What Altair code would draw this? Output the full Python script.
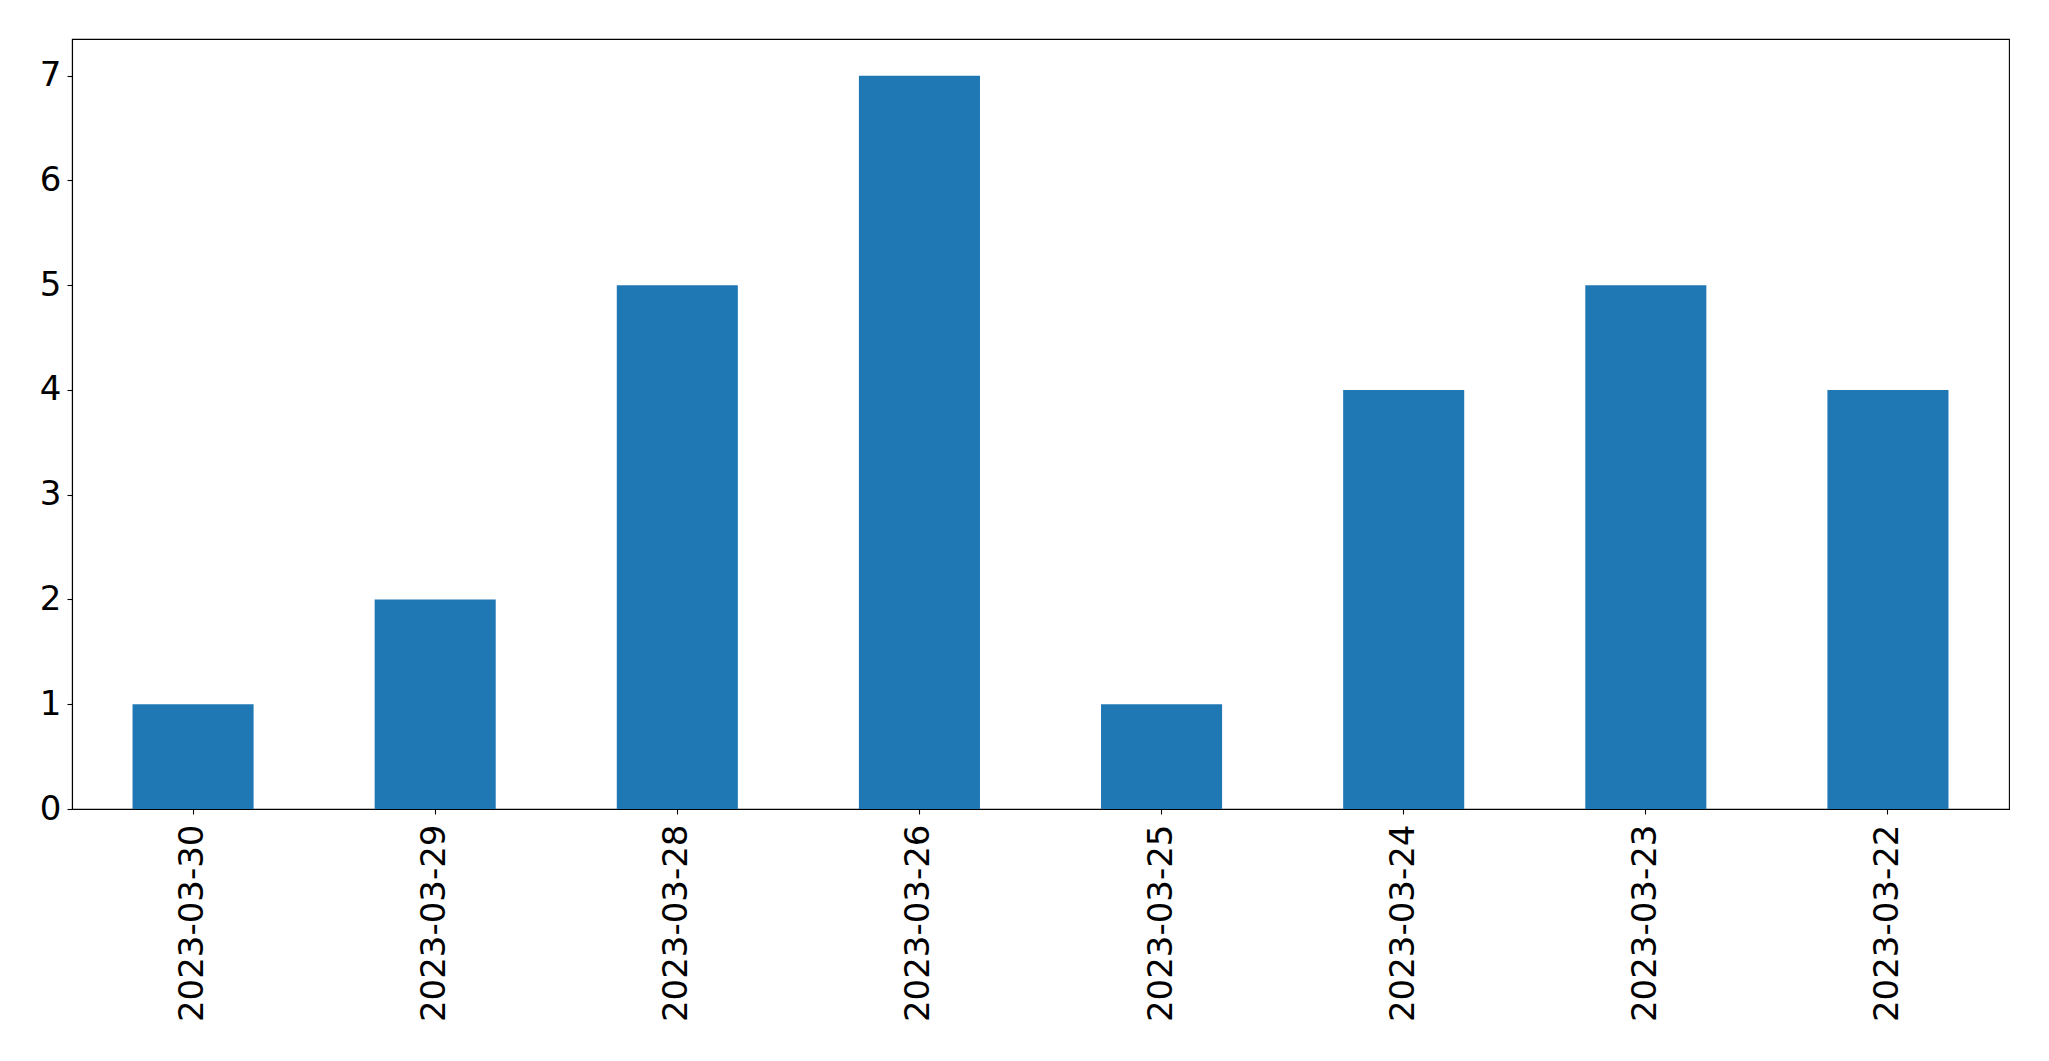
import altair as alt
import pandas as pd

dates = ["2023-03-30", "2023-03-29", "2023-03-28", "2023-03-26",
         "2023-03-25", "2023-03-24", "2023-03-23", "2023-03-22"]
counts = [1, 2, 5, 7, 1, 4, 5, 4]
y_ticks = [0, 1, 2, 3, 4, 5, 6, 7]

df = pd.DataFrame({"date": dates, "count": counts})

FONT = "DejaVu Sans"
FS = 34

chart = alt.Chart(df).mark_bar(color="#1f77b4").encode(
    x=alt.X("date:N", sort=None, title=None,
            scale=alt.Scale(paddingInner=0.5, paddingOuter=0.25),
            axis=alt.Axis(labelAngle=-90, labelAlign="right", labelBaseline="middle",
                          labelFontSize=FS, labelFont=FONT, labelColor="black",
                          labelLimit=0, labelOverlap=False,
                          tickSize=5, tickColor="black", tickWidth=1.1,
                          labelPadding=10, domainColor="black", domainWidth=1.1,
                          grid=False)),
    y=alt.Y("count:Q", title=None,
            scale=alt.Scale(domain=[0, 7.35], nice=False),
            axis=alt.Axis(values=y_ticks, format="d",
                          labelFontSize=FS, labelFont=FONT, labelColor="black",
                          tickSize=5, tickColor="black", tickWidth=1.1,
                          labelPadding=6, domainColor="black", domainWidth=1.1,
                          grid=False)),
).properties(
    width=1937,
    height=770,
    autosize=alt.AutoSizeParams(type="none"),
    padding={"left": 64, "top": 31, "right": 30, "bottom": 240},
).configure_view(
    stroke="black", strokeWidth=1.1
)

chart.save("out.html", embed_options={"renderer": "svg", "actions": False})
